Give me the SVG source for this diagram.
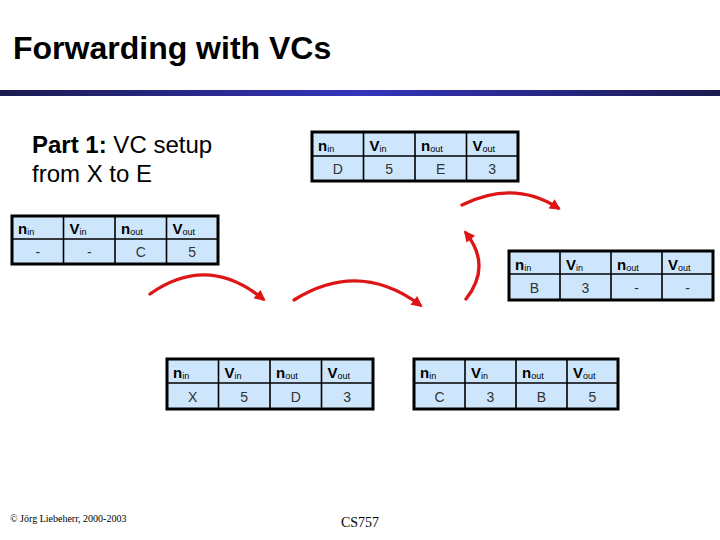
<svg xmlns="http://www.w3.org/2000/svg" width="720" height="540" viewBox="0 0 720 540">
<style>
.tbl rect{fill:#cde6fb;stroke:#000;stroke-width:3}
.tbl line{stroke:#000;stroke-width:1.6}
.h{font-family:"Liberation Sans",Arial,sans-serif;font-size:15px;font-weight:bold;fill:#000}
.h tspan.s{font-size:9px;font-weight:normal}
.d{font-family:"Liberation Sans",Arial,sans-serif;font-size:14px;fill:#333;text-anchor:middle}
.arr{fill:none;stroke:#dd1515;stroke-width:3.3;stroke-linecap:round;marker-end:url(#ah)}
</style>
<defs>
<linearGradient id="bar" x1="0" y1="0" x2="1" y2="0">
<stop offset="0" stop-color="#1b1b50"/>
<stop offset="0.5" stop-color="#3434bd"/>
<stop offset="1" stop-color="#1b1b50"/>
</linearGradient>
<marker id="ah" viewBox="0 0 10 10" refX="7" refY="5" markerWidth="13" markerHeight="11" markerUnits="userSpaceOnUse" orient="auto">
<path d="M0,0 L10,5 L0,10 z" fill="#dd1515"/>
</marker>
</defs>
<rect width="720" height="540" fill="#fff"/>
<text x="13" y="59" font-family="Liberation Sans,Arial,sans-serif" font-size="32" font-weight="bold" fill="#000">Forwarding with VCs</text>
<rect x="0" y="90" width="720" height="6" fill="url(#bar)"/>
<text font-family="Liberation Sans,Arial,sans-serif" font-size="24" fill="#000"><tspan x="32" y="153"><tspan font-weight="bold">Part 1:</tspan> VC setup</tspan><tspan x="32" y="182">from X to E</tspan></text>

<g id="table-D" class="tbl" transform="translate(312,132)">
<rect x="0" y="0" width="206" height="49"/>
<line x1="0" y1="24" x2="206" y2="24"/><line x1="51.5" y1="0" x2="51.5" y2="49"/><line x1="103" y1="0" x2="103" y2="49"/><line x1="154.5" y1="0" x2="154.5" y2="49"/>
<text class="h" x="6" y="19">n<tspan class="s" dy="1">in</tspan></text>
<text class="h" x="57.5" y="19">V<tspan class="s" dy="1">in</tspan></text>
<text class="h" x="109" y="19">n<tspan class="s" dy="1">out</tspan></text>
<text class="h" x="160.5" y="19">V<tspan class="s" dy="1">out</tspan></text>
<text class="d" x="25.75" y="42">D</text><text class="d" x="77.25" y="42">5</text><text class="d" x="128.75" y="42">E</text><text class="d" x="180.25" y="42">3</text>
</g>

<g id="table-left" class="tbl" transform="translate(12,216)">
<rect x="0" y="0" width="206" height="48"/>
<line x1="0" y1="23" x2="206" y2="23"/><line x1="51.5" y1="0" x2="51.5" y2="48"/><line x1="103" y1="0" x2="103" y2="48"/><line x1="154.5" y1="0" x2="154.5" y2="48"/>
<text class="h" x="6" y="18">n<tspan class="s" dy="1">in</tspan></text>
<text class="h" x="57.5" y="18">V<tspan class="s" dy="1">in</tspan></text>
<text class="h" x="109" y="18">n<tspan class="s" dy="1">out</tspan></text>
<text class="h" x="160.5" y="18">V<tspan class="s" dy="1">out</tspan></text>
<text class="d" x="25.75" y="41">-</text><text class="d" x="77.25" y="41">-</text><text class="d" x="128.75" y="41">C</text><text class="d" x="180.25" y="41">5</text>
</g>

<g id="table-right" class="tbl" transform="translate(509,251)">
<rect x="0" y="0" width="204" height="49"/>
<line x1="0" y1="23" x2="204" y2="23"/><line x1="51" y1="0" x2="51" y2="49"/><line x1="102" y1="0" x2="102" y2="49"/><line x1="153" y1="0" x2="153" y2="49"/>
<text class="h" x="6" y="19">n<tspan class="s" dy="1">in</tspan></text>
<text class="h" x="57" y="19">V<tspan class="s" dy="1">in</tspan></text>
<text class="h" x="108" y="19">n<tspan class="s" dy="1">out</tspan></text>
<text class="h" x="159" y="19">V<tspan class="s" dy="1">out</tspan></text>
<text class="d" x="25.5" y="42">B</text><text class="d" x="76.5" y="42">3</text><text class="d" x="127.5" y="42">-</text><text class="d" x="178.5" y="42">-</text>
</g>

<g id="table-X" class="tbl" transform="translate(167,359)">
<rect x="0" y="0" width="206" height="50"/>
<line x1="0" y1="24" x2="206" y2="24"/><line x1="51.5" y1="0" x2="51.5" y2="50"/><line x1="103" y1="0" x2="103" y2="50"/><line x1="154.5" y1="0" x2="154.5" y2="50"/>
<text class="h" x="6" y="19">n<tspan class="s" dy="1">in</tspan></text>
<text class="h" x="57.5" y="19">V<tspan class="s" dy="1">in</tspan></text>
<text class="h" x="109" y="19">n<tspan class="s" dy="1">out</tspan></text>
<text class="h" x="160.5" y="19">V<tspan class="s" dy="1">out</tspan></text>
<text class="d" x="25.75" y="43">X</text><text class="d" x="77.25" y="43">5</text><text class="d" x="128.75" y="43">D</text><text class="d" x="180.25" y="43">3</text>
</g>

<g id="table-C" class="tbl" transform="translate(414,359)">
<rect x="0" y="0" width="204" height="50"/>
<line x1="0" y1="24" x2="204" y2="24"/><line x1="51" y1="0" x2="51" y2="50"/><line x1="102" y1="0" x2="102" y2="50"/><line x1="153" y1="0" x2="153" y2="50"/>
<text class="h" x="6" y="19">n<tspan class="s" dy="1">in</tspan></text>
<text class="h" x="57" y="19">V<tspan class="s" dy="1">in</tspan></text>
<text class="h" x="108" y="19">n<tspan class="s" dy="1">out</tspan></text>
<text class="h" x="159" y="19">V<tspan class="s" dy="1">out</tspan></text>
<text class="d" x="25.5" y="43">C</text><text class="d" x="76.5" y="43">3</text><text class="d" x="127.5" y="43">B</text><text class="d" x="178.5" y="43">5</text>
</g>

<g id="connectors">
<path class="arr" d="M150,294 Q207.5,253.5 263,299"/>
<path class="arr" d="M294,300 Q359,259.5 420,305"/>
<path class="arr" d="M466,299 Q492,266 466,233"/>
<path class="arr" d="M462,205 Q514,179.5 558,208"/>
</g>

<text x="10" y="522" font-family="Liberation Serif,Times New Roman,serif" font-size="10" fill="#000">© Jörg Liebeherr, 2000-2003</text>
<text x="341" y="527" font-family="Liberation Serif,Times New Roman,serif" font-size="14" fill="#000">CS757</text>
</svg>
